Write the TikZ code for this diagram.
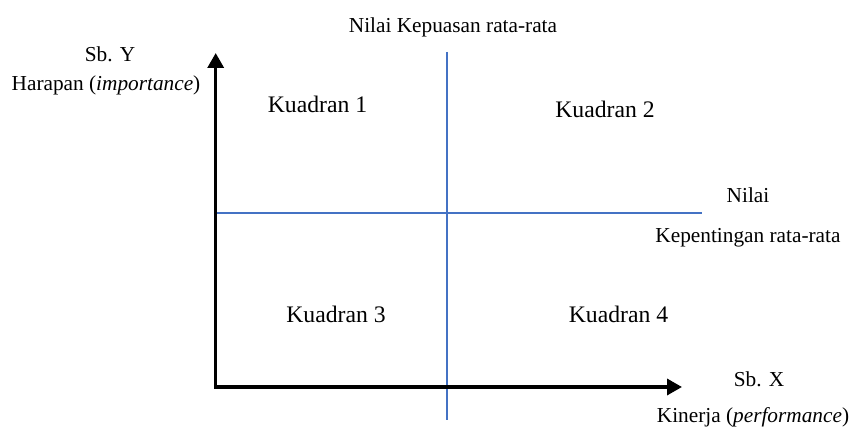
\documentclass[tikz,border=0pt]{standalone}
\usepackage{fontspec}
\setmainfont{Liberation Serif}
\usetikzlibrary{arrows.meta}
\definecolor{lineblue}{HTML}{4472C4}
\begin{document}
\begin{tikzpicture}[x=1pt,y=-1pt,
  lbl/.style={inner sep=0pt,anchor=base,font=\fontsize{21.3}{25}\selectfont},
  qlbl/.style={inner sep=0pt,anchor=base,font=\fontsize{23.7}{28}\selectfont},
  axis/.style={line width=3.4pt,-{Triangle[length=15pt,width=16pt]}},
  quad/.style={line width=2.3pt,draw=lineblue}]
\useasboundingbox (0,0) rectangle (852,427);
\coordinate (o) at (215.7,387);
\coordinate (ytip) at (215.7,53);
\coordinate (xtip) at (682,387);
\coordinate (vtop) at (447.3,52);
\coordinate (vbot) at (447.3,420);
\coordinate (hl) at (215.7,213);
\coordinate (hr) at (702,213);
\draw[quad] (vtop) -- (vbot);
\draw[quad] (hl) -- (hr);
\draw[axis] ([yshift=1.7pt]o) -- (ytip);
\draw[axis] ([xshift=-1.7pt]o) -- (xtip);
\node[lbl] (t1) at (453,33) {Nilai Kepuasan rata-rata};
\node[lbl] (sy) at (110,62) {Sb. Y};
\node[lbl] (hy) at (106,91) {Harapan (\textit{importance})};
\node[qlbl] (k1) at (317.5,113) {Kuadran 1};
\node[qlbl] (k2) at (605,118) {Kuadran 2};
\node[lbl] (n1) at (748,203) {Nilai};
\node[lbl] (n2) at (748,243) {Kepentingan rata-rata};
\node[qlbl] (k3) at (336,323) {Kuadran 3};
\node[qlbl] (k4) at (618.5,323) {Kuadran 4};
\node[lbl] (sx) at (759,387) {Sb. X};
\node[lbl] (kx) at (753,423) {Kinerja (\textit{performance})};
\end{tikzpicture}
\end{document}
